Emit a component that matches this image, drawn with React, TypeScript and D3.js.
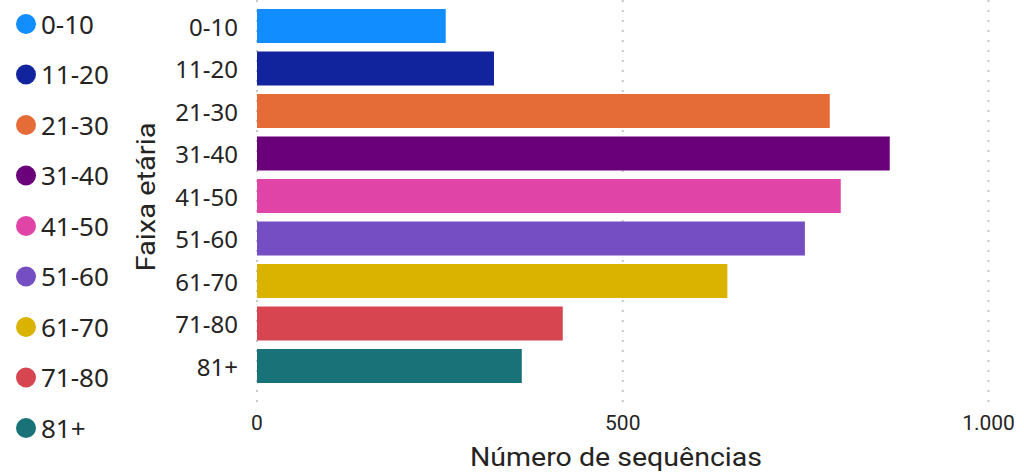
import { useEffect } from 'react';
import * as d3 from 'd3';

// age bands and number of sequences per band
const categories = ['0-10', '11-20', '21-30', '31-40', '41-50', '51-60', '61-70', '71-80', '81+'];
const values = [258, 324, 783, 865, 798, 749, 643, 418, 362];
const colors = ['#118DFF', '#12239E', '#E66C37', '#6B007B', '#E044A7', '#744EC2', '#D9B300', '#D64550', '#197278'];
const xTicks = [0, 500, 1000];

const WIDTH = 1024;
const HEIGHT = 473;
const TEXT = '#252423';

const ptBR = d3.formatLocale({ decimal: ',', thousands: '.', grouping: [3], currency: ['R$', ''] });
const fmt = ptBR.format(',');

export default function App() {
  useEffect(() => {
    document.body.style.margin = '0';
  }, []);

  const x = d3.scaleLinear().domain([0, 1000]).range([257, 988.5]);
  const y = d3
    .scaleBand<string>()
    .domain(categories)
    .range([4.75, 387.25])
    .paddingInner(0.2)
    .paddingOuter(0.1);

  const legendY = (i: number) => 24 + i * 50.5;

  return (
    <svg
      width={WIDTH}
      height={HEIGHT}
      style={{ position: 'absolute', left: 0, top: 0, background: '#fff' }}
    >
      {/* legend */}
      <g fontFamily="'Noto Sans', 'Open Sans', sans-serif" fontSize={26} fill={TEXT}>
        {categories.map((c, i) => (
          <g key={c}>
            <circle cx={26} cy={legendY(i)} r={10} fill={colors[i]} />
            <text x={41} y={legendY(i) + 9.5}>
              {c}
            </text>
          </g>
        ))}
      </g>

      {/* grid */}
      <g>
        {xTicks.map((t) => (
          <line
            key={t}
            x1={x(t)}
            x2={x(t)}
            y1={0}
            y2={402}
            stroke="#C8C8C8"
            strokeWidth={2}
            strokeDasharray="2,8"
          />
        ))}
      </g>

      {/* bars */}
      <g>
        {categories.map((c, i) => (
          <rect
            key={c}
            x={x(0)}
            y={y(c)}
            width={x(values[i]) - x(0)}
            height={y.bandwidth()}
            fill={colors[i]}
          />
        ))}
      </g>

      {/* y axis labels */}
      <g fontFamily="'Noto Sans', 'Open Sans', sans-serif" fontSize={24} fill={TEXT} textAnchor="end">
        {categories.map((c) => (
          <text key={c} x={238} y={(y(c) ?? 0) + y.bandwidth() / 2} dominantBaseline="central">
            {c}
          </text>
        ))}
      </g>

      {/* x axis tick labels */}
      <g fontFamily="Roboto, sans-serif" fontSize={21} fill={TEXT} textAnchor="middle">
        {xTicks.map((t) => (
          <text key={t} x={x(t)} y={430}>
            {fmt(t)}
          </text>
        ))}
      </g>

      {/* axis titles */}
      <text
        x={616}
        y={466}
        textAnchor="middle"
        fontFamily="Roboto, sans-serif"
        fontSize={25}
        fill={TEXT}
        textLength={292}
        lengthAdjust="spacingAndGlyphs"
      >
        Número de sequências
      </text>
      <text
        transform="translate(155,197) rotate(-90)"
        textAnchor="middle"
        fontFamily="Roboto, sans-serif"
        fontSize={25}
        fill={TEXT}
        textLength={149}
        lengthAdjust="spacingAndGlyphs"
      >
        Faixa etária
      </text>
    </svg>
  );
}
